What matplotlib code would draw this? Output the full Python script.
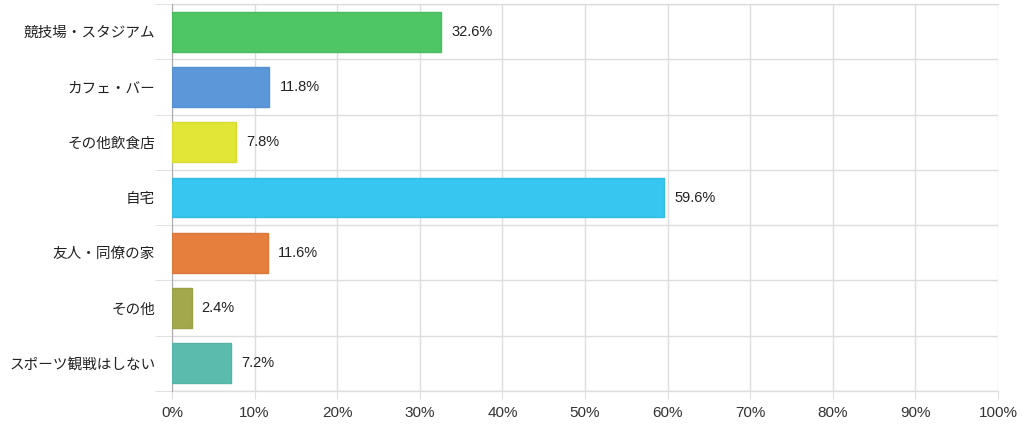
import numpy as np
import matplotlib.pyplot as plt

plt.rcParams['font.family'] = ['Noto Sans CJK JP', 'DejaVu Sans']

categories = ["競技場・スタジアム", "カフェ・バー", "その他飲食店", "自宅",
              "友人・同僚の家", "その他", "スポーツ観戦はしない"]
values = [32.6, 11.8, 7.8, 59.6, 11.6, 2.4, 7.2]
colors = ["#4fc665", "#5b97d9", "#e2e636", "#36c6ef", "#e67e3e", "#a2a84b", "#5bbcae"]
edges = ["#4abb5f", "#5690d0", "#d7db33", "#33bce3", "#db783b", "#9aa047", "#56b3a5"]

fig = plt.figure(figsize=(10.24, 4.24), dpi=100)
ax = fig.add_axes([172/1024, 1 - 391/424, (998-172)/1024, (391-4)/424])

y = np.arange(len(categories))
ax.barh(y, values, height=0.72, color=colors, edgecolor=edges, linewidth=1, zorder=3)
for yi, v in zip(y, values):
    ax.text(v + 1.2, yi, f"{v}%", va='center', ha='left', fontsize=10.5,
            family='Liberation Sans', color='#222222')

ax.set_xlim(0, 100)
ax.set_ylim(len(categories) - 0.5, -0.5)
ax.set_xticks(np.arange(0, 101, 10))
ax.set_xticklabels([f"{t}%" for t in range(0, 101, 10)], family='Liberation Sans',
                   fontsize=11, color='#333333')
ax.set_yticks(y)
ax.set_yticklabels(categories, fontsize=10.5, color='#222222')
ax.set_yticks(np.arange(-0.5, len(categories), 1), minor=True)

ax.grid(axis='x', color='#dddddd', linewidth=1, zorder=0)
ax.grid(axis='y', which='minor', color='#dddddd', linewidth=1, zorder=0)
ax.axhline(len(categories) - 0.5, color='#dddddd', linewidth=1, clip_on=False, zorder=0)
ax.axhline(-0.5, color='#dddddd', linewidth=1, clip_on=False, zorder=0)
ax.tick_params(axis='y', which='major', length=0, pad=12)
ax.tick_params(axis='y', which='minor', length=12, color='#dddddd')
ax.tick_params(axis='x', length=6, color='#dddddd', pad=5)

for s in ['top', 'right', 'bottom']:
    ax.spines[s].set_visible(False)
ax.spines['left'].set_color('#aaaaaa')

fig.savefig("out.png", dpi=100)
